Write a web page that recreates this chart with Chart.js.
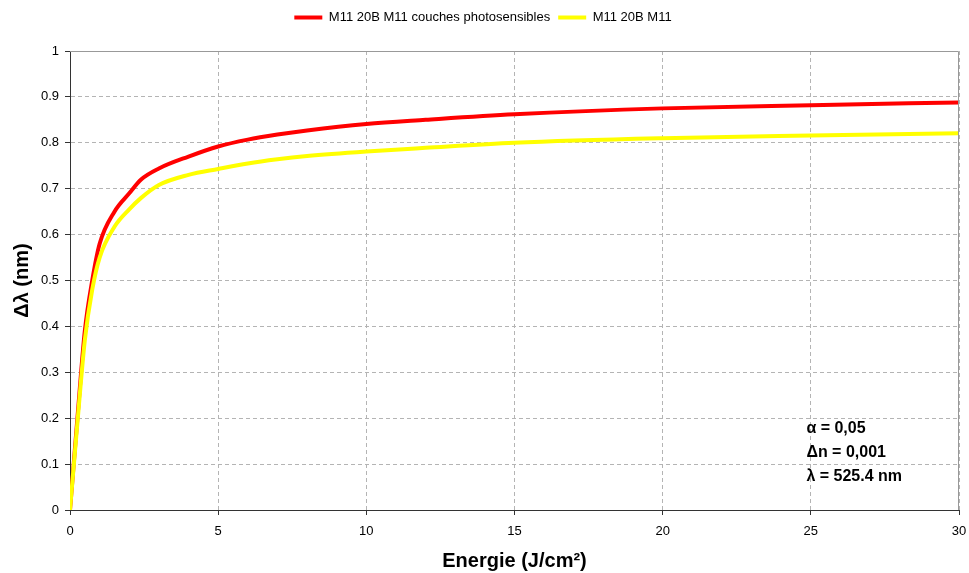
<!DOCTYPE html>
<html>
<head>
<meta charset="utf-8">
<script src="https://cdn.jsdelivr.net/npm/chart.js@4/dist/chart.umd.min.js"></script>
<style>
  html, body { margin: 0; padding: 0; background: #fff; }
  #wrap { width: 969px; height: 573px; }
</style>
</head>
<body>
<div id="wrap"><canvas id="chart"></canvas></div>
<script>
// Energy values (J/cm²)
const energie = [0, 0.25, 0.5, 0.75, 1, 1.5, 2, 2.4, 3, 4, 5, 6, 7, 8, 10, 12, 15, 20, 25, 30];
// Δλ (nm) for each series
const couchesPhoto = [0, 0.2, 0.39, 0.5, 0.58, 0.65, 0.69, 0.72, 0.744, 0.77, 0.792, 0.807, 0.818, 0.827, 0.841, 0.85, 0.862, 0.875, 0.882, 0.888];
const m11 = [0, 0.19, 0.37, 0.48, 0.55, 0.617, 0.655, 0.68, 0.708, 0.73, 0.743, 0.755, 0.764, 0.771, 0.781, 0.789, 0.8, 0.81, 0.816, 0.821];
const seriesNames = ['M11 20B M11 couches photosensibles', 'M11 20B M11'];
const notes = ['\u03B1 = 0,05', '\u0394n = 0,001', '\u03BB = 525.4 nm'];

const toPoints = (ys) => energie.map((x, i) => ({ x: x, y: ys[i] }));

// leave more room under the legend
const legendGap = {
  id: 'legendGap',
  afterInit(chart) {
    const fit = chart.legend.fit;
    chart.legend.fit = function () {
      fit.call(this);
      this.height += 17;
    };
  }
};

// frame on top/right + annotation text
const extras = {
  id: 'extras',
  afterDatasetsDraw(chart) {
    const { ctx, chartArea: a } = chart;
    ctx.save();
    ctx.strokeStyle = '#999';
    ctx.lineWidth = 1;
    ctx.beginPath();
    ctx.moveTo(a.left, a.top + 0.5);
    ctx.lineTo(a.right - 0.5, a.top + 0.5);
    ctx.lineTo(a.right - 0.5, a.bottom);
    ctx.stroke();

    ctx.fillStyle = '#000';
    ctx.font = 'bold 16px "Liberation Sans", Arial, sans-serif';
    ctx.textBaseline = 'middle';
    const xs = chart.scales.x, ys = chart.scales.y;
    const left = xs.getPixelForValue(24.85);
    notes.forEach((t, i) => {
      ctx.fillText(t, left, ys.getPixelForValue(0.178 - i * 0.053));
    });
    ctx.restore();
  }
};

const ctx = document.getElementById('chart');
new Chart(ctx, {
  type: 'line',
  data: {
    datasets: [{
      label: seriesNames[0],
      data: toPoints(couchesPhoto),
      borderColor: '#ff0000',
      backgroundColor: '#ff0000',
      borderWidth: 4,
      pointRadius: 0,
      cubicInterpolationMode: 'monotone',
      order: 1
    }, {
      label: seriesNames[1],
      data: toPoints(m11),
      borderColor: '#ffff00',
      backgroundColor: '#ffff00',
      borderWidth: 4,
      pointRadius: 0,
      cubicInterpolationMode: 'monotone',
      order: 0
    }]
  },
  options: {
    responsive: true,
    maintainAspectRatio: false,
    animation: false,
    layout: { padding: { top: 3, right: 3, left: 0, bottom: 0 } },
    plugins: {
      tooltip: { enabled: false },
      legend: {
        position: 'top',
        labels: {
          usePointStyle: true,
          pointStyle: 'line',
          pointStyleWidth: 28,
          boxHeight: 4,
          padding: 8,
          color: '#000',
          font: { family: '"Liberation Sans", Arial, sans-serif', size: 13 },
          sort: (a, b) => a.datasetIndex - b.datasetIndex
        }
      }
    },
    scales: {
      x: {
        type: 'linear',
        min: 0,
        max: 30,
        ticks: {
          stepSize: 5,
          color: '#000',
          padding: 9,
          font: { family: '"Liberation Sans", Arial, sans-serif', size: 13 }
        },
        grid: { color: '#b4b4b4', tickLength: 5, tickColor: '#333' },
        border: { color: '#333', width: 1, dash: [4, 3] },
        title: {
          display: true,
          text: 'Energie (J/cm\u00B2)',
          color: '#000',
          font: { family: '"Liberation Sans", Arial, sans-serif', size: 20, weight: 'bold' },
          padding: { top: 8, bottom: 0 }
        },
        afterFit: (s) => { s.height = 63; s.paddingRight = 10; }
      },
      y: {
        min: 0,
        max: 1,
        ticks: {
          stepSize: 0.1,
          color: '#000',
          padding: 6,
          font: { family: '"Liberation Sans", Arial, sans-serif', size: 13 },
          callback: (v) => String(Math.round(v * 10) / 10)
        },
        grid: { color: '#b4b4b4', tickLength: 5, tickColor: '#333' },
        border: { color: '#333', width: 1, dash: [4, 3] },
        title: {
          display: true,
          text: '\u0394\u03BB (nm)',
          color: '#000',
          font: { family: '"Liberation Sans", Arial, sans-serif', size: 20, weight: 'bold' },
          padding: { top: 10, bottom: 0 }
        },
        afterFit: (s) => { s.width = 70; }
      }
    }
  },
  plugins: [extras, legendGap]
});
</script>
</body>
</html>
